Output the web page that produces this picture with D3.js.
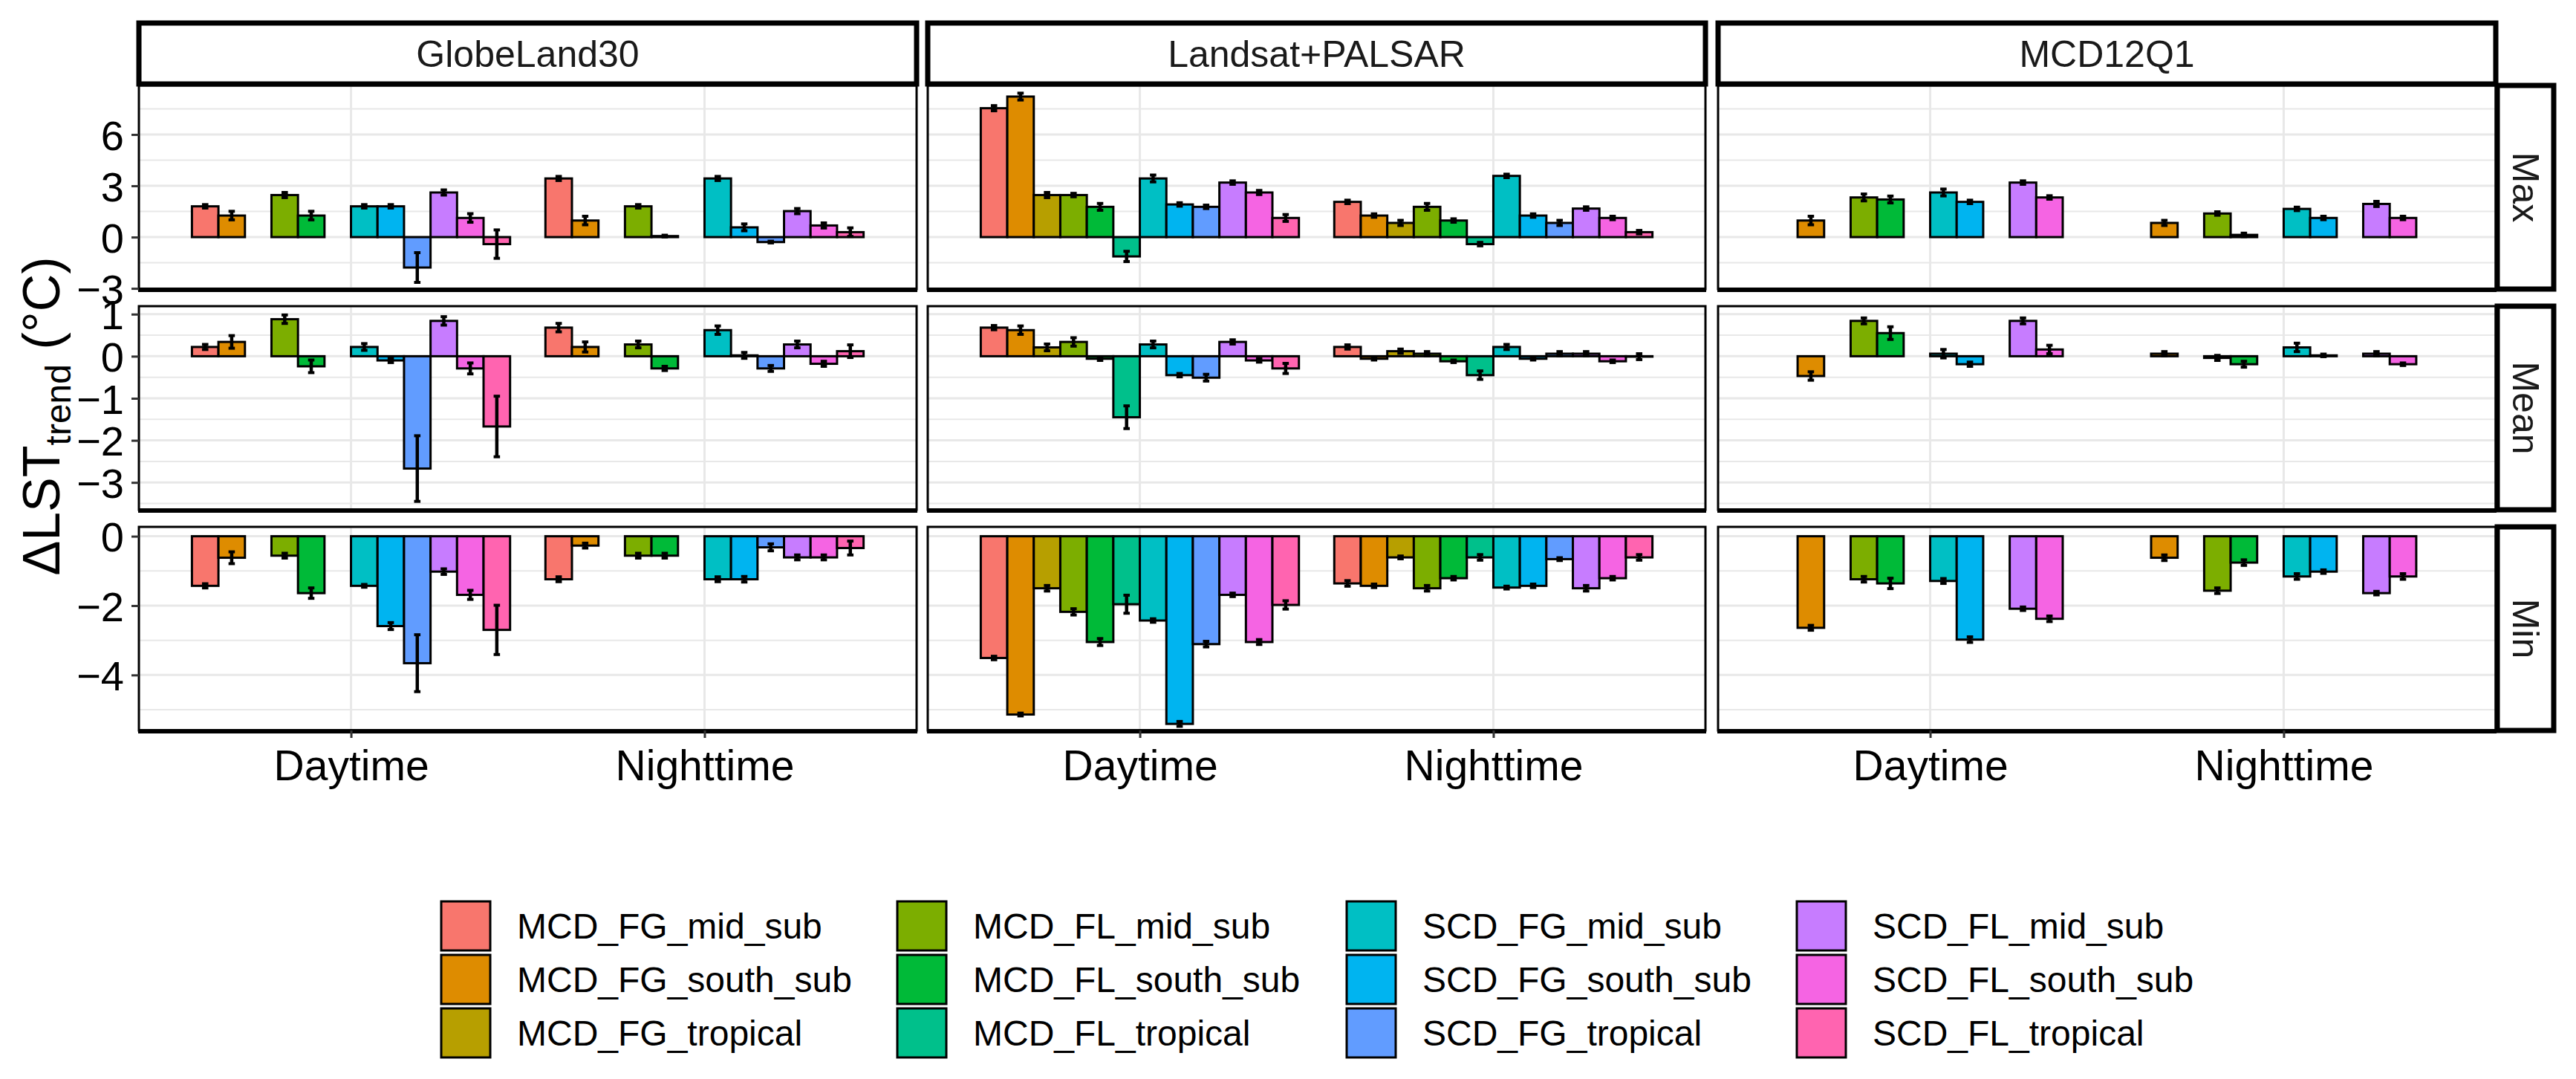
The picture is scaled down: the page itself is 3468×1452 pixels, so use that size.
<!DOCTYPE html>
<html><head><meta charset="utf-8">
<script src="https://cdn.jsdelivr.net/npm/d3@7"></script>
<style>
body{margin:0;background:#fff}
svg{display:block}
text{font-family:"Liberation Sans", Arial, sans-serif}
</style>
</head><body>
<svg id="chart" width="3468" height="1452"></svg>
<script>
// ---------------- data ----------------
const datasets = ["GlobeLand30", "Landsat+PALSAR", "MCD12Q1"];
const stats = ["Max", "Mean", "Min"];
const periods = ["Daytime", "Nighttime"];
const classes = ["MCD_FG_mid_sub","MCD_FG_south_sub","MCD_FG_tropical",
                 "MCD_FL_mid_sub","MCD_FL_south_sub","MCD_FL_tropical",
                 "SCD_FG_mid_sub","SCD_FG_south_sub","SCD_FG_tropical",
                 "SCD_FL_mid_sub","SCD_FL_south_sub","SCD_FL_tropical"];
const classColors = ["#F8766D","#DE8C00","#B79F00","#7CAE00","#00BA38","#00C08B",
                     "#00BFC4","#00B4F0","#619CFF","#C77CFF","#F564E3","#FF64B0"];

// GlobeLand30
const globe_max_day    = [1.80, 1.26, null, 2.46, 1.26, null, 1.80, 1.80, -1.78, 2.61, 1.12, -0.41];
const globe_max_day_se = [0.10, 0.25, null, 0.15, 0.25, null, 0.10, 0.10, 0.87, 0.15, 0.25, 0.83];
const globe_max_night    = [3.43, 0.97, null, 1.80, 0.06, null, 3.43, 0.57, -0.29, 1.52, 0.68, 0.29];
const globe_max_night_se = [0.12, 0.25, null, 0.10, 0.05, null, 0.12, 0.20, 0.05, 0.15, 0.15, 0.25];
const globe_mean_day    = [0.22, 0.34, null, 0.88, -0.24, null, 0.22, -0.10, -2.67, 0.84, -0.29, -1.67];
const globe_mean_day_se = [0.06, 0.15, null, 0.10, 0.15, null, 0.08, 0.05, 0.78, 0.10, 0.13, 0.72];
const globe_mean_night    = [0.68, 0.22, null, 0.28, -0.29, null, 0.62, 0.02, -0.29, 0.28, -0.18, 0.12];
const globe_mean_night_se = [0.10, 0.12, null, 0.08, 0.05, null, 0.10, 0.07, 0.07, 0.08, 0.06, 0.15];
const globe_min_day    = [-1.43, -0.62, null, -0.56, -1.64, null, -1.43, -2.59, -3.66, -1.02, -1.69, -2.70];
const globe_min_day_se = [0.06, 0.17, null, 0.07, 0.15, null, 0.04, 0.10, 0.82, 0.08, 0.13, 0.71];
const globe_min_night    = [-1.24, -0.27, null, -0.56, -0.56, null, -1.24, -1.24, -0.32, -0.61, -0.61, -0.34];
const globe_min_night_se = [0.07, 0.07, null, 0.07, 0.07, null, 0.07, 0.08, 0.10, 0.07, 0.07, 0.20];

// Landsat+PALSAR
const landsat_max_day    = [7.54, 8.22, 2.46, 2.46, 1.77, -1.13, 3.43, 1.91, 1.77, 3.19, 2.61, 1.12];
const landsat_max_day_se = [0.15, 0.20, 0.15, 0.10, 0.20, 0.30, 0.20, 0.10, 0.10, 0.10, 0.12, 0.20];
const landsat_max_night    = [2.06, 1.26, 0.83, 1.77, 0.97, -0.41, 3.58, 1.26, 0.83, 1.67, 1.12, 0.29];
const landsat_max_night_se = [0.10, 0.10, 0.15, 0.20, 0.10, 0.10, 0.10, 0.10, 0.15, 0.10, 0.10, 0.10];
const landsat_mean_day    = [0.68, 0.62, 0.21, 0.34, -0.06, -1.45, 0.28, -0.45, -0.51, 0.34, -0.10, -0.29];
const landsat_mean_day_se = [0.05, 0.10, 0.08, 0.10, 0.04, 0.27, 0.08, 0.04, 0.08, 0.05, 0.04, 0.12];
const landsat_mean_night    = [0.22, -0.06, 0.12, 0.06, -0.12, -0.45, 0.22, -0.06, 0.06, 0.06, -0.12, -0.01];
const landsat_mean_night_se = [0.05, 0.03, 0.05, 0.05, 0.03, 0.10, 0.06, 0.03, 0.05, 0.05, 0.03, 0.07];
const landsat_min_day    = [-3.51, -5.14, -1.50, -2.18, -3.05, -1.96, -2.43, -5.41, -3.11, -1.69, -3.05, -1.98];
const landsat_min_day_se = [0.05, 0.04, 0.08, 0.09, 0.10, 0.26, 0.05, 0.07, 0.08, 0.05, 0.07, 0.12];
const landsat_min_night    = [-1.36, -1.43, -0.61, -1.50, -1.21, -0.61, -1.48, -1.43, -0.66, -1.50, -1.21, -0.61];
const landsat_min_night_se = [0.08, 0.05, 0.04, 0.08, 0.05, 0.08, 0.04, 0.05, 0.04, 0.08, 0.05, 0.08];

// MCD12Q1
const mcd_max_day    = [null, 0.97, null, 2.32, 2.20, null, 2.61, 2.06, null, 3.19, 2.32, null];
const mcd_max_day_se = [null, 0.25, null, 0.20, 0.20, null, 0.20, 0.10, null, 0.10, 0.10, null];
const mcd_max_night    = [null, 0.83, null, 1.38, 0.13, null, 1.65, 1.12, null, 1.94, 1.12, null];
const mcd_max_night_se = [null, 0.15, null, 0.10, 0.10, null, 0.10, 0.10, null, 0.15, 0.10, null];
const mcd_mean_day    = [null, -0.47, null, 0.84, 0.55, null, 0.06, -0.19, null, 0.84, 0.16, null];
const mcd_mean_day_se = [null, 0.10, null, 0.07, 0.15, null, 0.10, 0.05, null, 0.07, 0.10, null];
const mcd_mean_night    = [null, 0.06, null, -0.04, -0.19, null, 0.21, 0.02, null, 0.06, -0.19, null];
const mcd_mean_night_se = [null, 0.05, null, 0.06, 0.07, null, 0.10, 0.03, null, 0.05, 0.03, null];
const mcd_min_day    = [null, -2.64, null, -1.24, -1.36, null, -1.29, -2.98, null, -2.09, -2.38, null];
const mcd_min_day_se = [null, 0.07, null, 0.08, 0.15, null, 0.07, 0.08, null, 0.05, 0.08, null];
const mcd_min_night    = [null, -0.62, null, -1.57, -0.76, null, -1.16, -1.02, null, -1.64, -1.16, null];
const mcd_min_night_se = [null, 0.08, null, 0.08, 0.08, null, 0.08, 0.05, null, 0.05, 0.08, null];

// y axis (free per row)
const max_domain = [-3.04, 8.87];
const mean_domain = [-3.65, 1.19];
const min_domain = [-5.60, 0.27];
const max_ticks = [-3, 0, 3, 6];
const mean_ticks = [-3, -2, -1, 0, 1];
const min_ticks = [-4, -2, 0];
const max_minor = [-1.5, 1.5, 4.5, 7.5];
const mean_minor = [-3.5, -2.5, -1.5, -0.5, 0.5];
const min_minor = [-5, -3, -1];

// ---------------- assemble table ----------------
const table = {
  "GlobeLand30": {
    Max:  {Daytime: [globe_max_day, globe_max_day_se], Nighttime: [globe_max_night, globe_max_night_se]},
    Mean: {Daytime: [globe_mean_day, globe_mean_day_se], Nighttime: [globe_mean_night, globe_mean_night_se]},
    Min:  {Daytime: [globe_min_day, globe_min_day_se], Nighttime: [globe_min_night, globe_min_night_se]}
  },
  "Landsat+PALSAR": {
    Max:  {Daytime: [landsat_max_day, landsat_max_day_se], Nighttime: [landsat_max_night, landsat_max_night_se]},
    Mean: {Daytime: [landsat_mean_day, landsat_mean_day_se], Nighttime: [landsat_mean_night, landsat_mean_night_se]},
    Min:  {Daytime: [landsat_min_day, landsat_min_day_se], Nighttime: [landsat_min_night, landsat_min_night_se]}
  },
  "MCD12Q1": {
    Max:  {Daytime: [mcd_max_day, mcd_max_day_se], Nighttime: [mcd_max_night, mcd_max_night_se]},
    Mean: {Daytime: [mcd_mean_day, mcd_mean_day_se], Nighttime: [mcd_mean_night, mcd_mean_night_se]},
    Min:  {Daytime: [mcd_min_day, mcd_min_day_se], Nighttime: [mcd_min_night, mcd_min_night_se]}
  }
};
const rowAxes = {
  Max:  {domain: max_domain, ticks: max_ticks, minor: max_minor},
  Mean: {domain: mean_domain, ticks: mean_ticks, minor: mean_minor},
  Min:  {domain: min_domain, ticks: min_ticks, minor: min_minor}
};

// ---------------- layout ----------------
const colX = [187, 1249, 2313], colW = 1047;
const rowY = [115, 412, 709], rowH = 274;
const stripTop = 31, stripH = 82;
const rStripX = 3362, rStripW = 76;
const svg = d3.select("#chart");
const color = d3.scaleOrdinal().domain(classes).range(classColors);

stats.forEach((stat, r) => {
  const ax = rowAxes[stat];
  const y = d3.scaleLinear().domain(ax.domain).range([rowY[r] + rowH, rowY[r]]);
  datasets.forEach((ds, c) => {
    const x = d3.scalePoint().domain(periods).range([colX[c], colX[c] + colW]).padding(0.6);
    const step = x.step();
    const dodge = d3.scaleBand().domain(classes).range([-0.45 * step, 0.45 * step]).padding(0);
    const g = svg.append("g");
    const clipId = `clip-${r}-${c}`;
    g.append("clipPath").attr("id", clipId).append("rect")
      .attr("x", colX[c]).attr("y", rowY[r]).attr("width", colW).attr("height", rowH);
    g.append("rect").attr("x", colX[c]).attr("y", rowY[r]).attr("width", colW).attr("height", rowH)
      .attr("fill", "#fff");
    const grid = g.append("g").attr("clip-path", `url(#${clipId})`);
    grid.selectAll(".minor").data(ax.minor).join("line")
      .attr("x1", colX[c]).attr("x2", colX[c] + colW)
      .attr("y1", d => y(d)).attr("y2", d => y(d))
      .attr("stroke", "#E8E8E8").attr("stroke-width", 2);
    grid.selectAll(".major").data(ax.ticks).join("line")
      .attr("x1", colX[c]).attr("x2", colX[c] + colW)
      .attr("y1", d => y(d)).attr("y2", d => y(d))
      .attr("stroke", "#E8E8E8").attr("stroke-width", 3);
    grid.selectAll(".vmajor").data(periods).join("line")
      .attr("x1", d => x(d)).attr("x2", d => x(d))
      .attr("y1", rowY[r]).attr("y2", rowY[r] + rowH)
      .attr("stroke", "#E8E8E8").attr("stroke-width", 3);

    const recs = [];
    periods.forEach(p => {
      const [vals, ses] = table[ds][stat][p];
      classes.forEach((cl, k) => {
        if (vals[k] === null) return;
        recs.push({p, cl, v: vals[k], se: ses[k]});
      });
    });
    const bars = g.append("g").attr("clip-path", `url(#${clipId})`);
    bars.selectAll("rect").data(recs).join("rect")
      .attr("x", d => x(d.p) + dodge(d.cl))
      .attr("width", dodge.bandwidth())
      .attr("y", d => Math.min(y(d.v), y(0)))
      .attr("height", d => Math.max(Math.abs(y(d.v) - y(0)), 0.01))
      .attr("fill", d => color(d.cl))
      .attr("stroke", "#000").attr("stroke-width", 3);
    const eb = bars.selectAll("g.eb").data(recs).join("g");
    const cx = d => x(d.p) + dodge(d.cl) + dodge.bandwidth() / 2;
    const capW = dodge.bandwidth() * 0.12;
    eb.append("line")
      .attr("x1", cx).attr("x2", cx)
      .attr("y1", d => y(d.v + d.se)).attr("y2", d => y(d.v - d.se))
      .attr("stroke", "#000").attr("stroke-width", 4.5);
    eb.append("line")
      .attr("x1", d => cx(d) - capW).attr("x2", d => cx(d) + capW)
      .attr("y1", d => y(d.v + d.se)).attr("y2", d => y(d.v + d.se))
      .attr("stroke", "#000").attr("stroke-width", 4);
    eb.append("line")
      .attr("x1", d => cx(d) - capW).attr("x2", d => cx(d) + capW)
      .attr("y1", d => y(d.v - d.se)).attr("y2", d => y(d.v - d.se))
      .attr("stroke", "#000").attr("stroke-width", 4);

    // panel border
    g.append("rect").attr("x", colX[c]).attr("y", rowY[r]).attr("width", colW).attr("height", rowH)
      .attr("fill", "none").attr("stroke", "#000").attr("stroke-width", 3);
    g.append("line").attr("x1", colX[c] - 1).attr("x2", colX[c] + colW + 1)
      .attr("y1", rowY[r] + rowH + 1).attr("y2", rowY[r] + rowH + 1)
      .attr("stroke", "#000").attr("stroke-width", 6);

    if (c === 0) {
      const yAxis = g.append("g").attr("transform", `translate(${colX[c]},0)`)
        .call(d3.axisLeft(y).tickValues(ax.ticks).tickSize(10).tickPadding(10).tickFormat(d3.format("d")));
      yAxis.select(".domain").remove();
      yAxis.selectAll(".tick line").attr("stroke", "#333").attr("stroke-width", 3);
      yAxis.selectAll(".tick text").attr("font-size", 56).attr("fill", "#000")
        .attr("font-family", "Liberation Sans, Arial, sans-serif").attr("dy", "0.36em");
    }
    if (r === stats.length - 1) {
      const xAxis = g.append("g").attr("transform", `translate(0,${rowY[r] + rowH})`)
        .call(d3.axisBottom(x).tickSize(10).tickPadding(17));
      xAxis.select(".domain").remove();
      xAxis.selectAll(".tick line").attr("stroke", "#333").attr("stroke-width", 3);
      xAxis.selectAll(".tick text").attr("font-size", 57).attr("fill", "#000")
        .attr("font-family", "Liberation Sans, Arial, sans-serif");
    }
  });
  // right strip
  svg.append("rect").attr("x", rStripX).attr("y", rowY[r]).attr("width", rStripW).attr("height", rowH)
    .attr("fill", "#fff").attr("stroke", "#000").attr("stroke-width", 7);
  svg.append("text")
    .attr("transform", `translate(${rStripX + rStripW / 2},${rowY[r] + rowH / 2}) rotate(90)`)
    .attr("text-anchor", "middle").attr("dy", "0.35em")
    .attr("font-size", 50).attr("fill", "#1a1a1a").text(stat);
});

// top strips
datasets.forEach((ds, c) => {
  svg.append("rect").attr("x", colX[c]).attr("y", stripTop).attr("width", colW).attr("height", stripH)
    .attr("fill", "#fff").attr("stroke", "#000").attr("stroke-width", 7);
  svg.append("text").attr("x", colX[c] + colW / 2).attr("y", stripTop + stripH / 2)
    .attr("text-anchor", "middle").attr("dy", "0.35em")
    .attr("font-size", 50).attr("fill", "#1a1a1a").text(ds);
});

// y title
const yt = svg.append("text")
  .attr("transform", "translate(80,560) rotate(-90)")
  .attr("text-anchor", "middle").attr("font-size", 70).attr("fill", "#000");
yt.append("tspan").text("ΔLST");
yt.append("tspan").attr("font-size", 48).attr("dy", 15).text("trend");
yt.append("tspan").attr("dy", -15).text(" (°C)");

// legend
const legX = [594, 1208, 1813, 2419], legY = [1213, 1285, 1357];
const keyW = 66, keyH = 66;
const leg = svg.append("g");
classes.forEach((cl, i) => {
  const col = Math.floor(i / 3), row = i % 3;
  leg.append("rect").attr("x", legX[col]).attr("y", legY[row]).attr("width", keyW).attr("height", keyH)
    .attr("fill", color(cl)).attr("stroke", "#000").attr("stroke-width", 3);
  leg.append("text").attr("x", legX[col] + 102).attr("y", legY[row] + keyH / 2)
    .attr("dy", "0.36em").attr("font-size", 48).attr("fill", "#000").text(cl);
});
</script>
</body></html>
